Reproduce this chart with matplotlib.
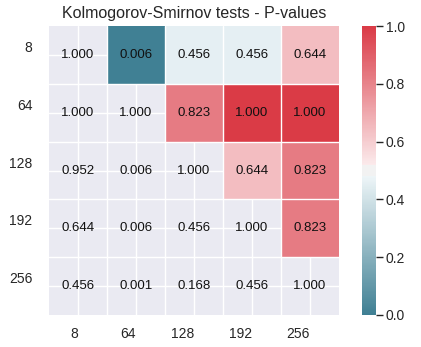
import colorsys
import numpy as np
import matplotlib
matplotlib.use("Agg")
import matplotlib.pyplot as plt
from matplotlib.colors import LinearSegmentedColormap
import seaborn as sns
from seaborn.external import husl

# sample sizes and KS-test p-values (row = first sample size, col = second)
sizes = ["8", "64", "128", "192", "256"]
row_8 = [1.000, 0.006, 0.456, 0.456, 0.644]
row_64 = [1.000, 1.000, 0.823, 1.000, 1.000]
row_128 = [0.952, 0.006, 1.000, 0.644, 0.823]
row_192 = [0.644, 0.006, 0.456, 1.000, 0.823]
row_256 = [0.456, 0.001, 0.168, 0.456, 1.000]
cbar_ticks = [0.0, 0.2, 0.4, 0.6, 0.8, 1.0]


def light_ramp(h, n, reverse=False):
    """Old-style seaborn light palette: husl colour blended to its l=.95 tint"""
    rgb = husl.husl_to_rgb(h, 75, 50)
    hh, _, ss = colorsys.rgb_to_hls(*rgb)
    light = colorsys.hls_to_rgb(hh, 0.95, ss)
    cols = [rgb, light] if reverse else [light, rgb]
    cm = LinearSegmentedColormap.from_list("ramp", cols)
    return cm(np.linspace(0, 1, n))


def diverging_cmap(h_neg=220, h_pos=10, sep=10):
    neg = light_ramp(h_neg, 128 - sep // 2, reverse=True)
    pos = light_ramp(h_pos, 128 - sep // 2)
    mid = np.array([[.95, .95, .95, 1.]] * sep)
    return LinearSegmentedColormap.from_list("div", np.concatenate([neg, mid, pos]))


sns.set_theme(style="darkgrid")
plt.rcParams["font.family"] = ["Liberation Sans", "DejaVu Sans"]

pvals = np.array([row_8, row_64, row_128, row_192, row_256])
mask = np.tril(np.ones_like(pvals, dtype=bool))
cmap = diverging_cmap()

fig = plt.figure(figsize=(4.21, 3.47), dpi=100)
ax = fig.add_axes([49 / 421, 32 / 347, 290 / 421, 289 / 347])
cax = fig.add_axes([362 / 421, 32 / 347, 14 / 421, 289 / 347])

sns.heatmap(pvals, mask=mask, cmap=cmap, vmin=0, vmax=1, ax=ax, cbar_ax=cax)

# white cell borders across the whole grid (masked cells too)
n = len(sizes)
for k in range(1, n):
    ax.axhline(k, color="white", lw=1, zorder=3)
    ax.axvline(k, color="white", lw=1, zorder=3)

# annotate every cell, masked ones included
for i in range(n):
    for j in range(n):
        ax.text(j + 0.5, i + 0.5, f"{pvals[i, j]:.3f}", ha="center", va="center",
                fontsize=9.5, color="#111111", zorder=4)

ax.set_title("Kolmogorov-Smirnov tests - P-values", fontsize=11.5, color="#262626", pad=6)
ax.set_xticks(np.arange(n) + 0.5)
ax.set_yticks(np.arange(n) + 0.5)
ax.set_xticklabels(sizes, rotation=0, ha="right", fontsize=10, color="#262626")
ax.set_yticklabels(sizes, rotation=0, va="bottom", fontsize=10, color="#262626")
ax.tick_params(axis="x", length=0, pad=9)
ax.tick_params(axis="y", length=0, pad=12)

cax.set_yticks(cbar_ticks)
cax.set_yticklabels([f"{t:.1f}" for t in cbar_ticks], fontsize=10, color="#262626")
cax.tick_params(axis="y", right=True, length=5, width=1, color="#262626", pad=2)

fig.savefig("out.png", dpi=100)
